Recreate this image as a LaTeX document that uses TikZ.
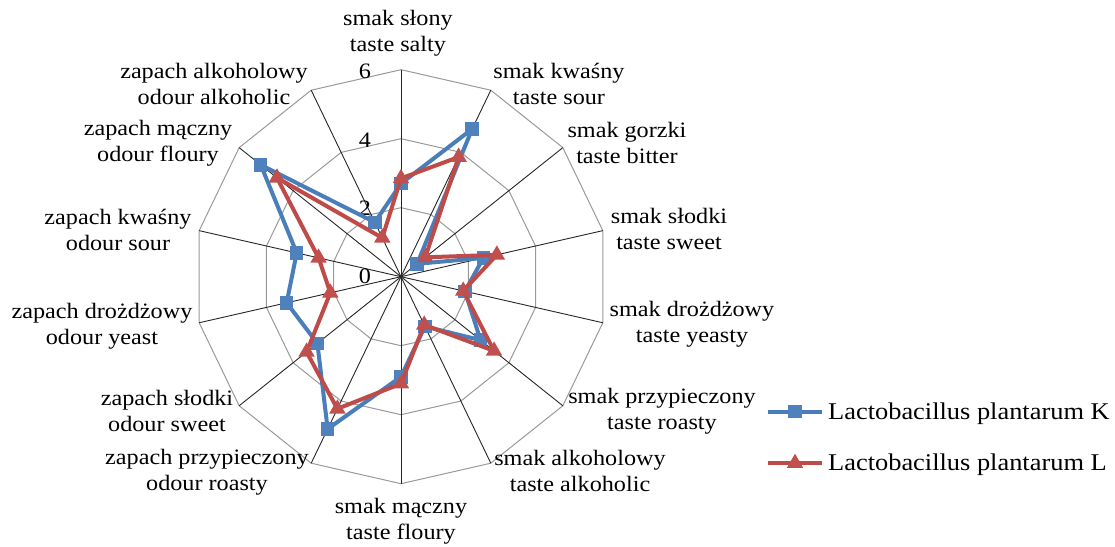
\documentclass[tikz,border=0pt]{standalone}
\usepackage{fontspec}
\setmainfont{Liberation Serif}[FakeStretch=1.1]
\usetikzlibrary{shapes.geometric}
\usepackage{xcolor}
\definecolor{serK}{HTML}{4F81BD}
\definecolor{serL}{HTML}{C0504D}
\definecolor{lineK}{HTML}{4A7EBB}
\definecolor{lineL}{HTML}{BE4B48}

\begin{document}
\begin{tikzpicture}[
    x=1pt, y=1pt,
    ring/.style={draw=black!40, line width=1pt},
    spoke/.style={draw=black!85, line width=0.9pt},
    lab/.style={align=center, inner sep=0pt, font=\fontsize{22}{26}\selectfont},
    tick/.style={inner sep=0pt, font=\fontsize{22}{26}\selectfont},
    leg/.style={anchor=west, inner sep=0pt, font=\fontsize{24}{28}\selectfont},
    kline/.style={draw=lineK, line width=4pt, line join=round},
    lline/.style={draw=lineL, line width=4pt, line join=round},
    kmark/.style={rectangle, fill=serK, minimum size=13.5pt, inner sep=0pt},
    lmark/.style={regular polygon, regular polygon sides=3, fill=serL,
                  minimum size=19pt, inner sep=0pt}
]

% --- Scale ---
\def\unit{34.5}  % one score step
\def\sect{25.7142857} % 360/14

\useasboundingbox (-401,-269.3) rectangle (714,276.7);

% --- Grid ---
\coordinate (c) at (0,0);
\foreach \r in {2,4,6}
    \draw[ring] (90:\r*\unit) \foreach \i in {1,...,13} {-- ({90-\i*\sect}:\r*\unit)} -- cycle;
\foreach \i in {0,...,13}
    \draw[spoke] (c) -- ({90-\i*\sect}:6*\unit);

% --- Scale numbers ---
\node[tick] (t0) at (-36,0) {0};
\node[tick] (t2) at (-36,68) {2};
\node[tick] (t4) at (-36,136.5) {4};
\node[tick] (t6) at (-36,205) {6};

% --- Axis labels (taste) ---
\node[lab] (salty)     at (-3,243.7)   {smak słony\\taste salty};
\node[lab] (sour)      at (158,192.7)  {smak kwaśny\\taste sour};
\node[lab] (bitter)    at (226,133.7)  {smak gorzki\\taste bitter};
\node[lab] (sweet)     at (268,47.7)   {smak słodki\\taste sweet};
\node[lab] (yeasty)    at (291,-47.3)  {smak drożdżowy\\taste yeasty};
\node[lab] (roasty)    at (261,-134.3) {smak przypieczony\\taste roasty};
\node[lab] (alcoholic) at (179,-194.3) {smak alkoholowy\\taste alkoholic};
\node[lab] (floury)    at (0,-244.3)   {smak mączny\\taste floury};

% --- Axis labels (odour) ---
\node[lab] (oroasty)    at (-194,-195.3) {zapach przypieczony\\odour roasty};
\node[lab] (osweet)     at (-234,-134.3) {zapach słodki\\odour sweet};
\node[lab] (oyeast)     at (-299,-49.3)  {zapach drożdżowy\\odour yeast};
\node[lab] (osour)      at (-283,46.7)   {zapach kwaśny\\odour sour};
\node[lab] (ofloury)    at (-243,133.7)  {zapach mączny\\odour floury};
\node[lab] (oalcoholic) at (-187,192.7)  {zapach alkoholowy\\odour alkoholic};

% --- Series K ---
\foreach \v [count=\i] in {2.7,4.75,0.6,2.45,1.9,2.95,1.6,2.9,4.9,3.1,3.4,3.1,5.2,1.75}
    \coordinate (k\i) at ({90-(\i-1)*\sect}:\v*\unit);
\draw[kline] (k1) \foreach \i in {2,...,14} {-- (k\i)} -- cycle;
\foreach \i in {1,...,14}
    \node[kmark] (mk\i) at (k\i) {};

% --- Series L ---
\foreach \v [count=\i] in {2.85,3.85,0.9,2.85,1.85,3.45,1.55,3.1,4.25,3.5,2.1,2.45,4.6,1.25}
    \coordinate (l\i) at ({90-(\i-1)*\sect}:\v*\unit);
\draw[lline] (l1) \foreach \i in {2,...,14} {-- (l\i)} -- cycle;
\foreach \i in {1,...,14}
    \node[lmark] (ml\i) at (l\i) {};

% --- Legend ---
\coordinate (kfrom) at (367,-135);
\coordinate (kto)   at (421,-135);
\draw[kline] (kfrom) -- (kto);
\node[kmark] (kkey) at (394,-135) {};
\node[leg] (ktext) at (427,-137) {Lactobacillus plantarum K};

\coordinate (lfrom) at (367,-186.5);
\coordinate (lto)   at (421,-186.5);
\draw[lline] (lfrom) -- (lto);
\node[lmark] (lkey) at (394,-186.5) {};
\node[leg] (ltext) at (427,-188.5) {Lactobacillus plantarum L};

\end{tikzpicture}
\end{document}
